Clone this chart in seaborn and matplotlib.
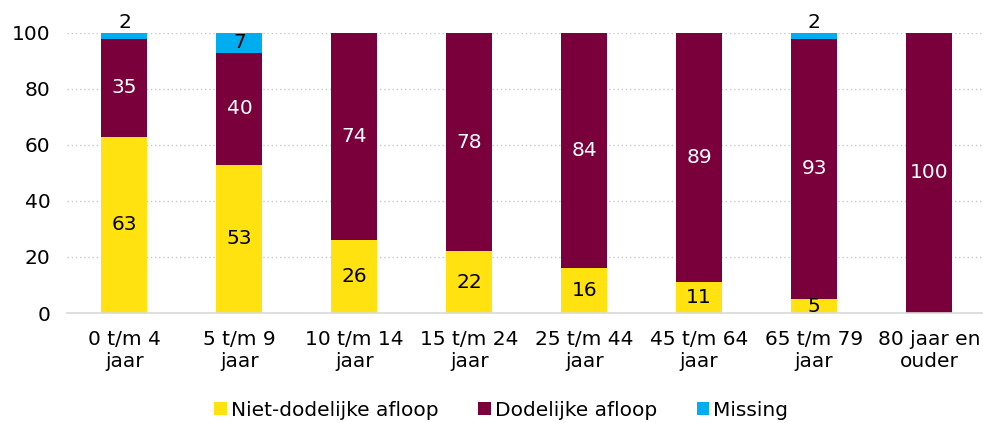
import numpy as np
import seaborn as sns
import matplotlib.pyplot as plt

categories = ["0 t/m 4\njaar", "5 t/m 9\njaar", "10 t/m 14\njaar", "15 t/m 24\njaar",
              "25 t/m 44\njaar", "45 t/m 64\njaar", "65 t/m 79\njaar", "80 jaar en\nouder"]
niet_dodelijk = [63, 53, 26, 22, 16, 11, 5, 0]
dodelijk = [35, 40, 74, 78, 84, 89, 93, 100]
missing = [2, 7, 0, 0, 0, 0, 2, 0]

series = [
    ("Niet-dodelijke afloop", niet_dodelijk, "#FFE20F", "black"),
    ("Dodelijke afloop", dodelijk, "#7A003C", "white"),
    ("Missing", missing, "#00AEEF", "black"),
]

sns.set_style("white")
plt.rcParams["font.family"] = ["DejaVu Sans"]
fs = 14.5

fig = plt.figure(figsize=(9.83, 4.23), dpi=100)
ax = fig.add_axes([67 / 983, 110 / 423, 916 / 983, 280 / 423])

bottom = np.zeros(len(categories))
for name, vals, color, tcolor in series:
    vals = np.array(vals, dtype=float)
    sns.barplot(x=categories, y=vals, bottom=bottom, color=color, width=0.4,
                label=name, ax=ax, saturation=1, linewidth=0)
    for i, v in enumerate(vals):
        if v <= 0:
            continue
        if name == "Missing" and v < 5:
            # small missing share: label above the bar
            ax.text(i, bottom[i] + v + 0.3, f"{v:.0f}", ha="center", va="bottom",
                    fontsize=fs, color="black", clip_on=False)
        else:
            ax.text(i, bottom[i] + v / 2, f"{v:.0f}", ha="center", va="center",
                    fontsize=fs, color=tcolor)
    bottom = bottom + vals

ax.set_ylim(0, 100)
ax.set_xlim(-0.5, 7.47)
ax.set_yticks(range(0, 101, 20))
ax.yaxis.grid(True, color="#C8C8C8", linestyle=(0, (1, 2)), linewidth=1)
ax.set_axisbelow(True)
for s in ["top", "right", "left"]:
    ax.spines[s].set_visible(False)
ax.spines["bottom"].set_color("#D9D9D9")
ax.spines["bottom"].set_linewidth(1.2)
ax.tick_params(axis="both", length=0, labelsize=fs, colors="black")
ax.tick_params(axis="x", pad=12)
ax.tick_params(axis="y", pad=12)
ax.set_xlabel("")
ax.set_ylabel("")

leg = ax.legend(loc="lower center", bbox_to_anchor=(0.51, -0.035), bbox_transform=fig.transFigure,
                ncol=3, frameon=False, fontsize=fs, handlelength=0.6, handleheight=0.6,
                handletextpad=0.2, columnspacing=2.0)
for t in leg.get_texts():
    t.set_color("black")

fig.savefig("out.png", dpi=100)
